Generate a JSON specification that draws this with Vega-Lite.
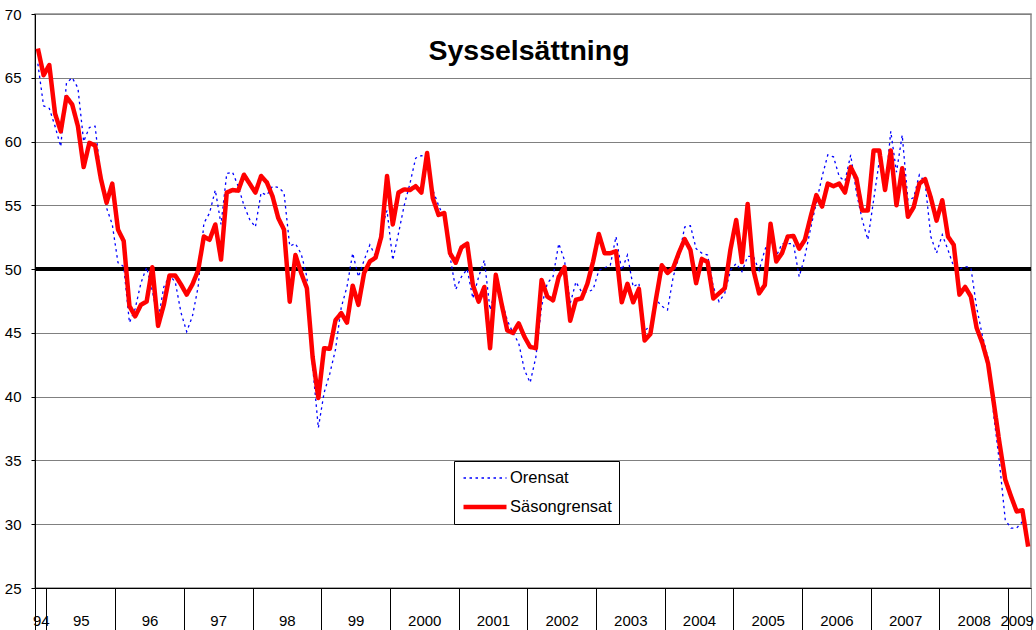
{
  "$schema": "https://vega.github.io/schema/vega-lite/v6.json",
  "width": 996,
  "height": 574,
  "autosize": {"type": "none"},
  "padding": {"left": 35, "top": 14, "right": 5, "bottom": 42},
  "background": "white",
  "title": {
    "text": "Sysselsättning",
    "font": "Liberation Sans",
    "fontSize": 28.5,
    "fontWeight": "bold",
    "color": "black",
    "anchor": "middle",
    "frame": "group",
    "offset": -58,
    "dx": -4
  },
  "config": {
    "view": {"stroke": "#8c8c8c", "strokeWidth": 1.5},
    "axis": {
      "labelFont": "Liberation Sans",
      "labelFontSize": 15,
      "labelColor": "black",
      "domainColor": "black",
      "tickColor": "black",
      "title": null
    },
    "legend": {
      "orient": "none",
      "legendX": 419,
      "legendY": 447,
      "title": null,
      "strokeColor": "black",
      "fillColor": "white",
      "padding": 7,
      "labelFont": "Liberation Sans",
      "labelFontSize": 16.5,
      "labelColor": "black",
      "labelOffset": 1,
      "symbolType": "stroke",
      "symbolSize": 1849,
      "clipHeight": 20,
      "rowPadding": 9
    }
  },
  "data": {
    "values": [
      {"i":0,"Orensat":66.1,"Säsongrensat":67.3},{"i":1,"Orensat":62.8,"Säsongrensat":65.2},{"i":2,"Orensat":62.6,"Säsongrensat":66.0},{"i":3,"Orensat":61.2,"Säsongrensat":62.2},{"i":4,"Orensat":59.6,"Säsongrensat":60.8},{"i":5,"Orensat":64.6,"Säsongrensat":63.5},{"i":6,"Orensat":65.0,"Säsongrensat":62.9},{"i":7,"Orensat":64.2,"Säsongrensat":61.2},{"i":8,"Orensat":60.0,"Säsongrensat":58.0},{"i":9,"Orensat":61.1,"Säsongrensat":59.9},
      {"i":10,"Orensat":61.2,"Säsongrensat":59.7},{"i":11,"Orensat":57.3,"Säsongrensat":57.1},{"i":12,"Orensat":54.8,"Säsongrensat":55.2},{"i":13,"Orensat":53.5,"Säsongrensat":56.7},{"i":14,"Orensat":50.5,"Säsongrensat":53.1},{"i":15,"Orensat":50.2,"Säsongrensat":52.2},{"i":16,"Orensat":45.8,"Säsongrensat":47.1},{"i":17,"Orensat":46.9,"Säsongrensat":46.3},{"i":18,"Orensat":48.9,"Säsongrensat":47.2},{"i":19,"Orensat":50.15,"Säsongrensat":47.45},
      {"i":20,"Orensat":48.3,"Säsongrensat":50.15},{"i":21,"Orensat":46.0,"Säsongrensat":45.55},{"i":22,"Orensat":48.6,"Säsongrensat":47.2},{"i":23,"Orensat":49.5,"Säsongrensat":49.5},{"i":24,"Orensat":49.0,"Säsongrensat":49.5},{"i":25,"Orensat":46.6,"Säsongrensat":48.8},{"i":26,"Orensat":45.1,"Säsongrensat":48.0},{"i":27,"Orensat":46.3,"Säsongrensat":48.8},{"i":28,"Orensat":48.6,"Säsongrensat":49.9},{"i":29,"Orensat":53.6,"Säsongrensat":52.55},
      {"i":30,"Orensat":54.4,"Säsongrensat":52.3},{"i":31,"Orensat":56.2,"Säsongrensat":53.5},{"i":32,"Orensat":53.5,"Säsongrensat":50.75},{"i":33,"Orensat":57.5,"Säsongrensat":56.0},{"i":34,"Orensat":57.6,"Säsongrensat":56.2},{"i":35,"Orensat":56.5,"Säsongrensat":56.15},{"i":36,"Orensat":55.0,"Säsongrensat":57.4},{"i":37,"Orensat":53.9,"Säsongrensat":56.7},{"i":38,"Orensat":53.3,"Säsongrensat":56.0},{"i":39,"Orensat":56.0,"Säsongrensat":57.3},
      {"i":40,"Orensat":55.8,"Säsongrensat":56.8},{"i":41,"Orensat":56.5,"Säsongrensat":55.7},{"i":42,"Orensat":56.4,"Säsongrensat":54.0},{"i":43,"Orensat":56.0,"Säsongrensat":53.1},{"i":44,"Orensat":51.8,"Säsongrensat":47.45},{"i":45,"Orensat":52.0,"Säsongrensat":51.1},{"i":46,"Orensat":51.2,"Säsongrensat":49.7},{"i":47,"Orensat":49.4,"Säsongrensat":48.5},{"i":48,"Orensat":42.4,"Säsongrensat":43.1},{"i":49,"Orensat":37.55,"Säsongrensat":39.9},
      {"i":50,"Orensat":40.3,"Säsongrensat":43.8},{"i":51,"Orensat":41.8,"Säsongrensat":43.75},{"i":52,"Orensat":43.7,"Säsongrensat":46.0},{"i":53,"Orensat":47.0,"Säsongrensat":46.55},{"i":54,"Orensat":48.6,"Säsongrensat":45.8},{"i":55,"Orensat":51.25,"Säsongrensat":48.7},{"i":56,"Orensat":49.4,"Säsongrensat":47.2},{"i":57,"Orensat":50.7,"Säsongrensat":49.7},{"i":58,"Orensat":51.9,"Säsongrensat":50.6},{"i":59,"Orensat":51.0,"Säsongrensat":50.9},
      {"i":60,"Orensat":53.1,"Säsongrensat":52.55},{"i":61,"Orensat":54.6,"Säsongrensat":57.3},{"i":62,"Orensat":50.7,"Säsongrensat":53.5},{"i":63,"Orensat":52.8,"Säsongrensat":56.0},{"i":64,"Orensat":55.0,"Säsongrensat":56.25},{"i":65,"Orensat":56.7,"Säsongrensat":56.2},{"i":66,"Orensat":58.7,"Säsongrensat":56.5},{"i":67,"Orensat":58.9,"Säsongrensat":56.0},{"i":68,"Orensat":58.8,"Säsongrensat":59.1},{"i":69,"Orensat":56.2,"Säsongrensat":55.55},
      {"i":70,"Orensat":55.0,"Säsongrensat":54.25},{"i":71,"Orensat":54.0,"Säsongrensat":54.4},{"i":72,"Orensat":51.0,"Säsongrensat":51.25},{"i":73,"Orensat":48.4,"Säsongrensat":50.5},{"i":74,"Orensat":49.4,"Säsongrensat":51.7},{"i":75,"Orensat":50.0,"Säsongrensat":52.0},{"i":76,"Orensat":47.7,"Säsongrensat":48.75},{"i":77,"Orensat":49.4,"Säsongrensat":47.45},{"i":78,"Orensat":50.7,"Säsongrensat":48.6},{"i":79,"Orensat":46.8,"Säsongrensat":43.8},
      {"i":80,"Orensat":48.6,"Säsongrensat":49.55},{"i":81,"Orensat":47.6,"Säsongrensat":47.3},{"i":82,"Orensat":46.0,"Säsongrensat":45.2},{"i":83,"Orensat":45.0,"Säsongrensat":45.0},{"i":84,"Orensat":44.2,"Säsongrensat":45.75},{"i":85,"Orensat":42.1,"Säsongrensat":44.7},{"i":86,"Orensat":41.1,"Säsongrensat":43.9},{"i":87,"Orensat":43.1,"Säsongrensat":43.8},{"i":88,"Orensat":47.1,"Säsongrensat":49.15},{"i":89,"Orensat":48.9,"Säsongrensat":47.85},
      {"i":90,"Orensat":49.4,"Säsongrensat":47.55},{"i":91,"Orensat":52.0,"Säsongrensat":49.4},{"i":92,"Orensat":50.7,"Säsongrensat":50.15},{"i":93,"Orensat":47.3,"Säsongrensat":45.95},{"i":94,"Orensat":49.0,"Säsongrensat":47.6},{"i":95,"Orensat":48.2,"Säsongrensat":47.7},{"i":96,"Orensat":48.2,"Säsongrensat":48.85},{"i":97,"Orensat":48.4,"Säsongrensat":50.6},{"i":98,"Orensat":49.9,"Säsongrensat":52.75},{"i":99,"Orensat":50.1,"Säsongrensat":51.25},
      {"i":100,"Orensat":50.3,"Säsongrensat":51.25},{"i":101,"Orensat":52.55,"Säsongrensat":51.4},{"i":102,"Orensat":49.9,"Säsongrensat":47.4},{"i":103,"Orensat":51.1,"Säsongrensat":48.85},{"i":104,"Orensat":48.6,"Säsongrensat":47.4},{"i":105,"Orensat":48.9,"Säsongrensat":48.45},{"i":106,"Orensat":45.2,"Säsongrensat":44.4},{"i":107,"Orensat":45.5,"Säsongrensat":44.9},{"i":108,"Orensat":47.6,"Säsongrensat":47.7},{"i":109,"Orensat":47.1,"Säsongrensat":50.3},
      {"i":110,"Orensat":46.8,"Säsongrensat":49.7},{"i":111,"Orensat":49.4,"Säsongrensat":50.1},{"i":112,"Orensat":51.0,"Säsongrensat":51.3},{"i":113,"Orensat":53.3,"Säsongrensat":52.35},{"i":114,"Orensat":53.4,"Säsongrensat":51.5},{"i":115,"Orensat":51.6,"Säsongrensat":48.9},{"i":116,"Orensat":51.25,"Säsongrensat":50.8},{"i":117,"Orensat":51.1,"Säsongrensat":50.55},{"i":118,"Orensat":48.6,"Säsongrensat":47.7},{"i":119,"Orensat":47.45,"Säsongrensat":48.1},
      {"i":120,"Orensat":48.1,"Säsongrensat":48.5},{"i":121,"Orensat":49.9,"Säsongrensat":51.55},{"i":122,"Orensat":50.45,"Säsongrensat":53.85},{"i":123,"Orensat":49.8,"Säsongrensat":50.55},{"i":124,"Orensat":51.0,"Säsongrensat":55.1},{"i":125,"Orensat":51.0,"Säsongrensat":49.95},{"i":126,"Orensat":49.9,"Säsongrensat":48.1},{"i":127,"Orensat":51.5,"Säsongrensat":48.75},{"i":128,"Orensat":52.5,"Säsongrensat":53.55},{"i":129,"Orensat":51.0,"Säsongrensat":50.6},
      {"i":130,"Orensat":52.0,"Säsongrensat":51.25},{"i":131,"Orensat":52.0,"Säsongrensat":52.55},{"i":132,"Orensat":52.0,"Säsongrensat":52.6},{"i":133,"Orensat":49.4,"Säsongrensat":51.6},{"i":134,"Orensat":51.0,"Säsongrensat":52.3},{"i":135,"Orensat":53.2,"Säsongrensat":54.1},{"i":136,"Orensat":55.2,"Säsongrensat":55.8},{"i":137,"Orensat":57.25,"Säsongrensat":54.9},{"i":138,"Orensat":58.95,"Säsongrensat":56.7},{"i":139,"Orensat":58.8,"Säsongrensat":56.5},
      {"i":140,"Orensat":57.25,"Säsongrensat":56.7},{"i":141,"Orensat":56.9,"Säsongrensat":56.0},{"i":142,"Orensat":58.95,"Säsongrensat":58.0},{"i":143,"Orensat":56.0,"Säsongrensat":57.1},{"i":144,"Orensat":53.9,"Säsongrensat":54.6},{"i":145,"Orensat":52.3,"Säsongrensat":54.6},{"i":146,"Orensat":55.4,"Säsongrensat":59.3},{"i":147,"Orensat":58.5,"Säsongrensat":59.3},{"i":148,"Orensat":56.1,"Säsongrensat":56.2},{"i":149,"Orensat":60.8,"Säsongrensat":59.3},
      {"i":150,"Orensat":57.6,"Säsongrensat":55.0},{"i":151,"Orensat":60.5,"Säsongrensat":57.9},{"i":152,"Orensat":55.4,"Säsongrensat":54.1},{"i":153,"Orensat":55.6,"Säsongrensat":54.85},{"i":154,"Orensat":57.4,"Säsongrensat":56.7},{"i":155,"Orensat":56.8,"Säsongrensat":57.05},{"i":156,"Orensat":52.55,"Säsongrensat":55.6},{"i":157,"Orensat":51.25,"Säsongrensat":53.8},{"i":158,"Orensat":52.7,"Säsongrensat":55.4},{"i":159,"Orensat":51.5,"Säsongrensat":52.55},
      {"i":160,"Orensat":50.2,"Säsongrensat":51.9},{"i":161,"Orensat":50.0,"Säsongrensat":48.0},{"i":162,"Orensat":50.2,"Säsongrensat":48.6},{"i":163,"Orensat":50.1,"Säsongrensat":47.85},{"i":164,"Orensat":47.0,"Säsongrensat":45.4},{"i":165,"Orensat":44.8,"Säsongrensat":44.2},{"i":166,"Orensat":43.0,"Säsongrensat":42.6},{"i":167,"Orensat":38.5,"Säsongrensat":39.5},{"i":168,"Orensat":34.8,"Säsongrensat":36.35},{"i":169,"Orensat":30.35,"Säsongrensat":33.5},
      {"i":170,"Orensat":29.7,"Säsongrensat":32.2},{"i":171,"Orensat":29.7,"Säsongrensat":31.0},{"i":172,"Orensat":30.2,"Säsongrensat":31.1},{"i":173,"Orensat":29.8,"Säsongrensat":28.25}
    ]
  },
  "layer": [
    {
      "mark": {"type": "rule", "color": "black", "strokeWidth": 3.5},
      "encoding": {
        "y": {
          "datum": 50,
          "type": "quantitative",
          "scale": {"domain": [25, 70], "nice": false, "zero": false},
          "axis": {
            "values": [25, 30, 35, 40, 45, 50, 55, 60, 65, 70],
            "grid": true,
            "gridColor": "#808080",
            "gridWidth": 1,
            "tickSize": 4,
            "labelPadding": 10,
            "title": null
          }
        }
      }
    },
    {
      "transform": [
        {"fold": ["Orensat", "Säsongrensat"], "as": ["serie", "v"]},
        {"filter": "datum.serie == 'Orensat'"}
      ],
      "mark": {"type": "line"},
      "encoding": {
        "x": {
          "field": "i",
          "type": "quantitative",
          "scale": {"domain": [-0.5, 173.5], "nice": false, "zero": false},
          "axis": {
            "orient": "bottom",
            "values": [-0.5, 1.5, 13.5, 25.5, 37.5, 49.5, 61.5, 73.5, 85.5, 97.5, 109.5, 121.5, 133.5, 145.5, 157.5, 169.5, 173.5],
            "labels": false,
            "grid": false,
            "tickSize": 42,
            "tickColor": {"condition": {"test": "datum.value > 173", "value": "#8c8c8c"}, "value": "black"},
            "domainColor": "black",
            "title": null
          }
        },
        "y": {
          "field": "v",
          "type": "quantitative",
          "scale": {"domain": [25, 70], "nice": false, "zero": false},
          "axis": {
            "values": [25, 30, 35, 40, 45, 50, 55, 60, 65, 70],
            "grid": true,
            "gridColor": "#808080",
            "gridWidth": 1,
            "tickSize": 4,
            "labelPadding": 10,
            "title": null
          }
        },
        "color": {
          "field": "serie",
          "type": "nominal",
          "scale": {"domain": ["Orensat", "Säsongrensat"], "range": ["#0000ff", "#ff0000"]},
          "legend": {"title": null}
        },
        "strokeDash": {
          "field": "serie",
          "type": "nominal",
          "scale": {"domain": ["Orensat", "Säsongrensat"], "range": [[2.5, 3.5], [1, 0]]},
          "legend": {"title": null}
        },
        "strokeWidth": {
          "field": "serie",
          "type": "nominal",
          "scale": {"domain": ["Orensat", "Säsongrensat"], "range": [1.3, 4.5]},
          "legend": {"title": null}
        }
      }
    },
    {
      "transform": [
        {"fold": ["Orensat", "Säsongrensat"], "as": ["serie", "v"]},
        {"filter": "datum.serie == 'Säsongrensat'"}
      ],
      "mark": {"type": "line", "strokeJoin": "round"},
      "encoding": {
        "x": {
          "field": "i",
          "type": "quantitative",
          "scale": {"domain": [-0.5, 173.5], "nice": false, "zero": false},
          "axis": {
            "orient": "bottom",
            "values": [0.5, 7.5, 19.5, 31.5, 43.5, 55.5, 67.5, 79.5, 91.5, 103.5, 115.5, 127.5, 139.5, 151.5, 163.5, 171],
            "ticks": false,
            "tickSize": 0,
            "domain": false,
            "grid": false,
            "labelPadding": 25,
            "labelFlush": false,
            "labelOverlap": false,
            "labelBound": false,
            "labelExpr": "datum.value < 1 ? '94' : (datum.value < 61 ? '' + (95 + floor((datum.value - 1.5) / 12)) : '' + (1995 + floor((datum.value - 1.5) / 12)))",
            "title": null
          }
        },
        "y": {
          "field": "v",
          "type": "quantitative",
          "scale": {"domain": [25, 70], "nice": false, "zero": false},
          "axis": {
            "values": [25, 30, 35, 40, 45, 50, 55, 60, 65, 70],
            "grid": true,
            "gridColor": "#808080",
            "gridWidth": 1,
            "tickSize": 4,
            "labelPadding": 10,
            "title": null
          }
        },
        "color": {
          "field": "serie",
          "type": "nominal",
          "scale": {"domain": ["Orensat", "Säsongrensat"], "range": ["#0000ff", "#ff0000"]},
          "legend": {"title": null}
        },
        "strokeDash": {
          "field": "serie",
          "type": "nominal",
          "scale": {"domain": ["Orensat", "Säsongrensat"], "range": [[2.5, 3.5], [1, 0]]},
          "legend": {"title": null}
        },
        "strokeWidth": {
          "field": "serie",
          "type": "nominal",
          "scale": {"domain": ["Orensat", "Säsongrensat"], "range": [1.3, 4.5]},
          "legend": {"title": null}
        }
      }
    }
  ],
  "resolve": {"scale": {"x": "shared", "y": "shared"}, "axis": {"x": "independent", "y": "shared"}}
}
